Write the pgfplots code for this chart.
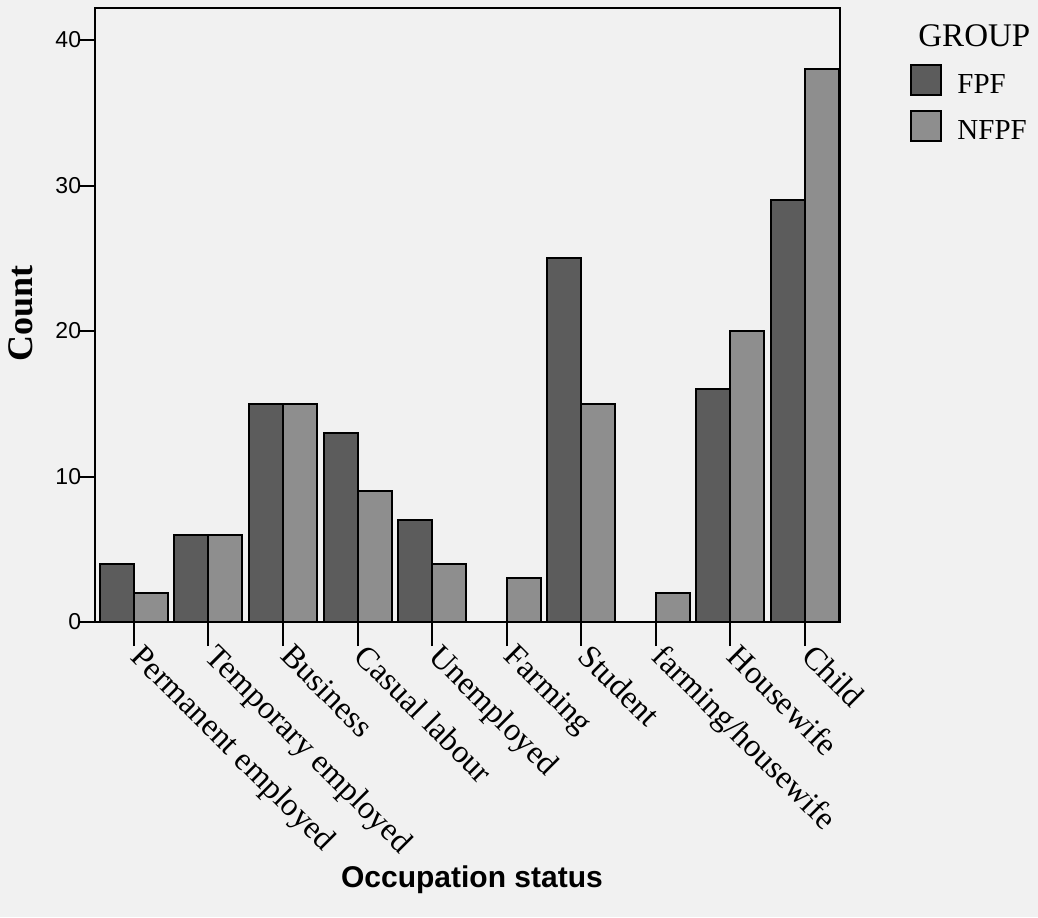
\documentclass[border=0pt]{standalone}
\usepackage{fontspec}
\setmainfont{Liberation Serif}
\setsansfont{Liberation Sans}
\usepackage{pgfplots}
\pgfplotsset{compat=1.18}
\definecolor{bg}{RGB}{241,241,241}
\definecolor{fpf}{RGB}{92,92,92}
\definecolor{nfpf}{RGB}{142,142,142}
\begin{document}
\begin{tikzpicture}
\path[use as bounding box, fill=bg] (-47.5pt,-147.5pt) rectangle (471.5pt,311pt);
\begin{axis}[
 at={(0,0)}, anchor=south west,
 scale only axis, width=372.5pt, height=307pt,
 xmin=-0.52, xmax=9.47, ymin=0, ymax=42.2,
 ybar=0pt, bar width=17pt,
 xtick={0,...,9},
 xticklabels={Permanent employed, Temporary employed, Business, Casual labour, Unemployed, Farming, Student, farming/housewife, Housewife, Child},
 ytick={0,10,20,30,40},
 xtick pos=bottom, ytick pos=left,
 tick align=outside,
 xtick style={/pgfplots/major tick length=12pt, line width=1pt, black},
 ytick style={/pgfplots/major tick length=7.5pt, line width=1pt, black},
 xticklabel style={rotate=-45, anchor=north west, font=\fontsize{16.2}{19}\selectfont, inner sep=0pt, xshift=8pt},
 yticklabel style={font=\sffamily\fontsize{11.5}{13}\selectfont, inner sep=2.5pt},
 /pgf/number format/assume math mode=true,
 axis line style={line width=1.2pt},
 every axis y label/.style={at={(axis description cs:-0.0993,0.503)}, rotate=90, anchor=center, font=\bfseries\fontsize{18}{21}\selectfont},
 every axis x label/.style={at={(axis description cs:0.506,-0.42)}, anchor=center, font=\sffamily\bfseries\fontsize{15}{18}\selectfont},
 ylabel={Count},
 xlabel={Occupation status},
 legend style={at={(axis description cs:1.094,0.909)}, anchor=north west, draw=none, fill=none,
   font=\fontsize{14.5}{18}\selectfont, row sep=3.5pt, inner sep=0pt,
   nodes={inner sep=0pt, text height=11pt, text depth=4.5pt},
   /tikz/every odd column/.append style={column sep=7.5pt}},
 legend cell align=left,
 clip=false,
]
\addplot[fill=fpf, draw=black, line width=1pt,
  legend image code/.code={\draw[fill=fpf, draw=black, line width=1pt] (0pt,-4pt) rectangle (15pt,11pt);}]
  coordinates {(0,4) (1,6) (2,15) (3,13) (4,7) (5,0) (6,25) (7,0) (8,16) (9,29)};
\addplot[fill=nfpf, draw=black, line width=1pt,
  legend image code/.code={\draw[fill=nfpf, draw=black, line width=1pt] (0pt,-4pt) rectangle (15pt,11pt);}]
  coordinates {(0,2) (1,6) (2,15) (3,9) (4,4) (5,3) (6,15) (7,2) (8,20) (9,38)};
\legend{FPF, NFPF}
\end{axis}
\node[anchor=west, inner sep=0pt, font=\fontsize{16.5}{20}\selectfont] at (411.5pt,293pt) {GROUP};
\end{tikzpicture}
\end{document}
